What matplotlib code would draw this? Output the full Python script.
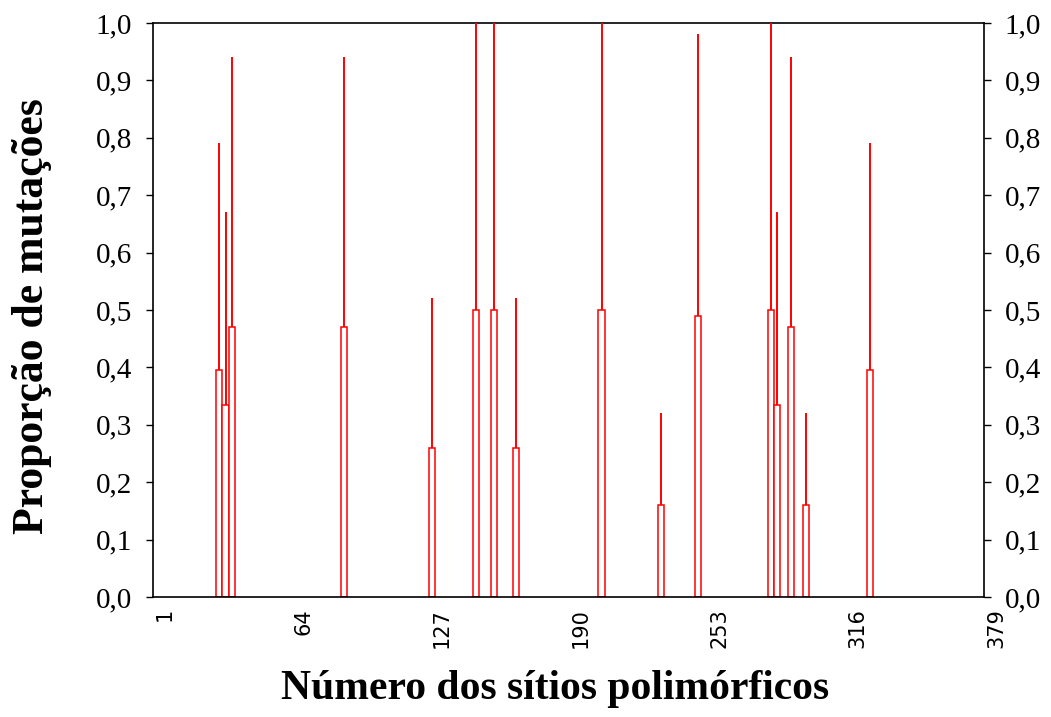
import matplotlib
matplotlib.use("Agg")
import matplotlib.pyplot as plt
import matplotlib.transforms as mtransforms

# sites (x position) and proportion of mutations
sitios = [31, 34, 37, 88, 128, 148, 156, 166, 205, 232, 249, 282, 285, 291, 298, 327]
proporcao = [0.79, 0.67, 0.94, 0.94, 0.52, 1.0, 1.0, 0.52, 1.0, 0.32, 0.98, 1.0, 0.67, 0.94, 0.32, 0.79]
metade = [v / 2 for v in proporcao]

x_ticks = [1, 64, 127, 190, 253, 316, 379]
y_ticks = [i / 10 for i in range(11)]
y_labels = [("%.1f" % v).replace(".", ",") for v in y_ticks]

fig = plt.figure(figsize=(10.51, 7.17), dpi=100)
ax = fig.add_axes([0.1456, 0.1674, 0.7907, 0.8006])

# lower part drawn as an open column, upper part as a thin line
ax.bar(sitios, metade, width=2.8, facecolor="white", edgecolor="red", linewidth=1.1, zorder=2)
ax.vlines(sitios, metade, proporcao, color="red", linewidth=1.4, zorder=3)

ax.set_xlim(1, 379)
ax.set_ylim(0, 1.0)
ax.set_xticks(x_ticks)
ax.set_xticklabels([str(t) for t in x_ticks], rotation=90, fontsize=15, family="DejaVu Sans")
ax.tick_params(axis="x", length=0, pad=8)
offset = mtransforms.ScaledTranslation(0.12, 0, fig.dpi_scale_trans)
for lab in ax.get_xticklabels():
    lab.set_transform(lab.get_transform() + offset)

ax.set_yticks(y_ticks)
ax.set_yticklabels(y_labels, fontsize=21, family="Liberation Serif")
ax.tick_params(axis="y", length=5, width=1, pad=10, right=True, labelright=True)

for s in ax.spines.values():
    s.set_linewidth(1.2)

ax.set_ylabel("Proporção de mutações", fontsize=31.5, fontweight="bold",
              family="Liberation Serif")
ax.yaxis.set_label_coords(-0.1215, 0.49)
ax.set_xlabel("Número dos sítios polimórficos", fontsize=30, fontweight="bold",
              family="Liberation Serif")
ax.xaxis.set_label_coords(0.484, -0.128)

fig.savefig("out.png", dpi=100)
